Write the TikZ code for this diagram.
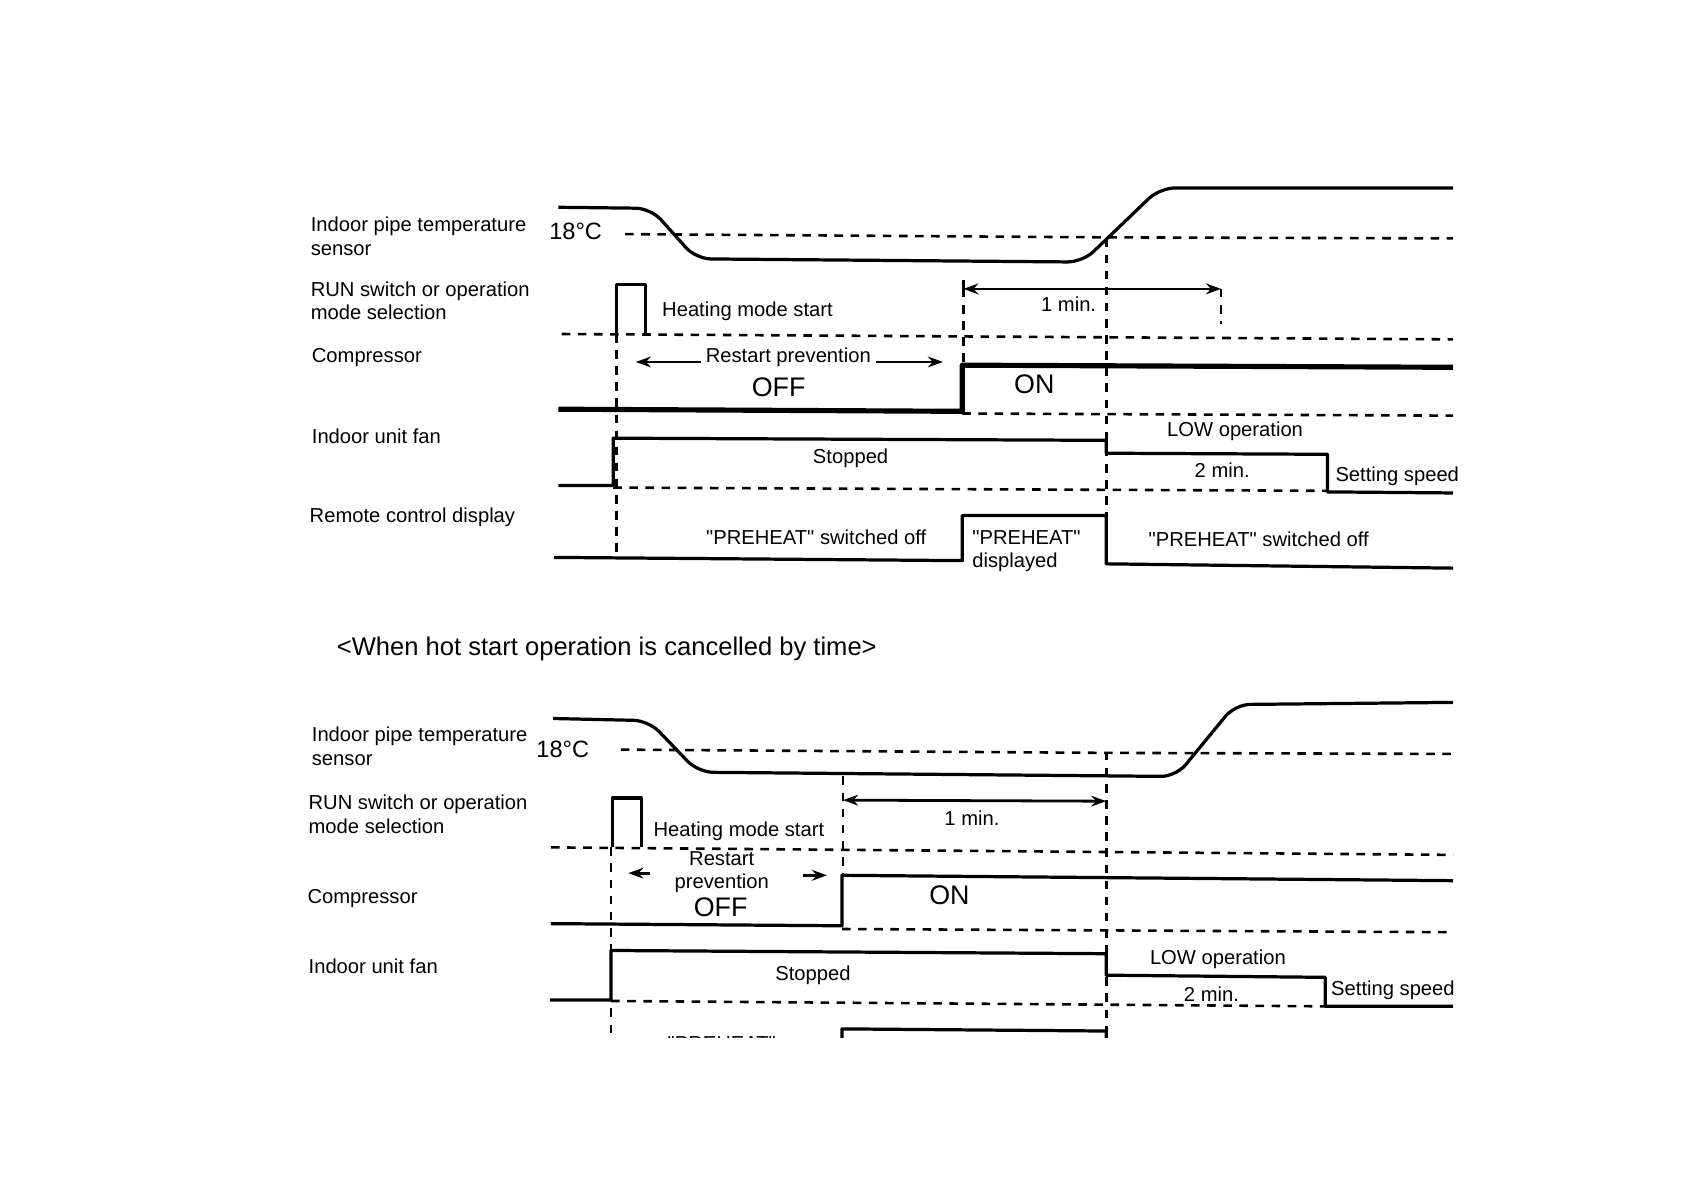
\documentclass[tikz,border=0pt]{standalone}
\usepackage{fontspec}
\setmainfont{Liberation Sans}
\usetikzlibrary{arrows,arrows.meta,positioning}

\newcommand{\qt}[1]{\textquotedbl #1\textquotedbl}

\begin{document}
\begin{tikzpicture}[x=0.5pt,y=-0.5pt,
		signal/.style={line width=1.5pt, line join=round},
		heavy/.style={line width=2.4pt, line join=round},
		level/.style={dash pattern=on 4pt off 3.5pt, line width=1.2pt},
		span/.style={-{Stealth[length=7pt,width=5pt]}, line width=1.3pt},
		twoway/.style={{Stealth[length=7pt,width=5pt]}-{Stealth[length=7pt,width=5pt]}, line width=1.3pt},
		lbl/.style={anchor=west, align=left, inner sep=0pt,
			font=\fontsize{9.4}{11}\selectfont},
		txt/.style={inner sep=0pt, align=center,
			font=\fontsize{9.4}{10.5}\selectfont},
		big/.style={inner sep=0pt, font=\fontsize{12.5}{14}\selectfont},
		temp/.style={inner sep=0pt, font=\fontsize{11}{13}\selectfont}
	]
	\useasboundingbox (0,0) rectangle (1568,1108);

	% upper chart: labels
	\node[lbl] (pipeA) at (289,220) {Indoor pipe temperature\\sensor};
	\node[lbl] (runA) at (289,280) {RUN switch or operation\\ mode selection};
	\node[lbl] (compA) at (290,333) {Compressor};
	\node[lbl] (fanA) at (290,406) {Indoor unit fan};
	\node[lbl] (dispA) at (288,482) {Remote control display};

	% upper chart: pipe temperature
	\node[temp] (degA) at (536,215) {18°C};
	\draw[level] (582,218) -- (1030,221) -- (1353,222);
	\draw[signal, rounded corners=7pt] (520,193) -- (606,194) -- (648,241)
		-- (1008,244) -- (1080,175) -- (1353,175);

	% upper chart: run switch
	\draw[level] (523,311) -- (1353,316);
	\draw[signal] (574,311) -- (574,265) -- (601,265) -- (601,311);
	\node[txt] (heatA) at (696,290) {Heating mode start};

	% upper chart: compressor
	\node[txt] (rpA) at (734,333) {Restart prevention};
	\coordinate (rpAl) at (592,337);
	\coordinate (rpAr) at (878,337);
	\draw[span] ([xshift=-2pt]rpA.west |- rpAl) -- (rpAl);
	\draw[span] ([xshift=2pt]rpA.east |- rpAr) -- (rpAr);
	\node[big] (offA) at (725,361) {OFF};
	\node[big] (onA) at (963,358) {ON};
	\draw[heavy] (520,381) -- (896,383) -- (896,340) -- (1353,342);
	\draw[level] (896,385) -- (1353,387);

	% upper chart: 1 min.
	\coordinate (minAl) at (897,269);
	\coordinate (minAr) at (1137,269);
	\draw[line width=1.2pt] (897,261) -- (minAl);
	\draw[twoway] (minAl) -- (minAr);
	\draw[level] (minAr) -- (1137,302);
	\node[txt] (minA) at (995,283) {1 min.};

	% upper chart: indoor unit fan
	\draw[signal] (520,452) -- (571,452) -- (571,408) -- (1030,410)
		-- (1030,422) -- (1236,423) -- (1236,458) -- (1353,459);
	\draw[level] (571,454) -- (1236,457);
	\node[txt] (stopA) at (792,427) {Stopped};
	\node[txt] (lowA) at (1150,402) {LOW operation};
	\node[txt] (twoA) at (1138,438) {2 min.};
	\node[txt] (setA) at (1301,443) {Setting speed};

	% upper chart: remote control display
	\draw[signal] (516,519) -- (896,522) -- (896,480) -- (1030,480)
		-- (1030,525) -- (1353,529);
	\node[txt] (offdA) at (760,500) {\qt{PREHEAT} switched off};
	\node[lbl, font=\fontsize{9.4}{10.5}\selectfont] (showA) at (905,513) {\qt{PREHEAT}\\displayed};
	\node[txt] (offeA) at (1172,502) {\qt{PREHEAT} switched off};

	% upper chart: time marks
	\draw[level] (574,311) -- (574,516);
	\draw[level] (897,269) -- (897,340);
	\draw[level] (1030,222) -- (1030,480);

	% title
	\node[inner sep=0pt, font=\fontsize{11.9}{14}\selectfont] (title) at (565,604)
		{<When hot start operation is cancelled by time>};

	% lower chart: labels
	\node[lbl] (pipeB) at (290,695) {Indoor pipe temperature\\sensor};
	\node[lbl] (runB) at (287,758) {RUN switch or operation\\mode selection};
	\node[lbl] (compB) at (286,837) {Compressor};
	\node[lbl] (fanB) at (287,900) {Indoor unit fan};

	% lower chart: pipe temperature
	\node[temp] (degB) at (524,698) {18°C};
	\draw[level] (578,698) -- (1030,701) -- (1353,702);
	\draw[signal, rounded corners=7pt] (515,669) -- (604,671) -- (650,719)
		-- (1095,723) -- (1150,656) -- (1353,654);

	% lower chart: run switch
	\draw[level] (513,789) -- (1353,796);
	\draw[signal] (570,789) -- (570,743) -- (597,743) -- (597,789);
	\node[txt] (heatB) at (688,774) {Heating mode start};

	% lower chart: compressor
	\node[txt] (rpB) at (672,812) {Restart\\prevention};
	\coordinate (rpBl) at (585,813);
	\coordinate (rpBr) at (770,815);
	\draw[span] (605,813) -- (rpBl);
	\draw[span] (748,815) -- (rpBr);
	\node[big] (offB) at (671,845) {OFF};
	\node[big] (onB) at (884,834) {ON};
	\draw[signal] (513,860) -- (784,862) -- (784,815) -- (1353,820);
	\draw[level] (784,865) -- (1353,868);

	% lower chart: 1 min.
	\coordinate (minBl) at (785,745);
	\coordinate (minBr) at (1030,746);
	\draw[twoway] (minBl) -- (minBr);
	\node[txt] (minB) at (905,762) {1 min.};

	% lower chart: indoor unit fan
	\draw[signal] (512,931) -- (569,931) -- (569,885) -- (1030,888)
		-- (1030,908) -- (1234,910) -- (1234,937) -- (1353,937);
	\draw[level] (569,932) -- (1234,937);
	\node[txt] (stopB) at (757,908) {Stopped};
	\node[txt] (lowB) at (1134,893) {LOW operation};
	\node[txt] (twoB) at (1128,926) {2 min.};
	\node[txt] (setB) at (1297,922) {Setting speed};

	% lower chart: time marks and cut-off display row
	\draw[level] (785,723) -- (785,815);
	\begin{scope}
		\clip (0,0) rectangle (1568,966);
		\draw[level] (569,789) -- (569,1000);
		\draw[level] (1030,700) -- (1030,1000);
		\draw[signal] (784,1000) -- (784,958) -- (1030,960) -- (1030,1000);
		\node[txt, anchor=north] (offdB) at (672,964.5) {\qt{PREHEAT}\\switched off};
	\end{scope}
\end{tikzpicture}
\end{document}
